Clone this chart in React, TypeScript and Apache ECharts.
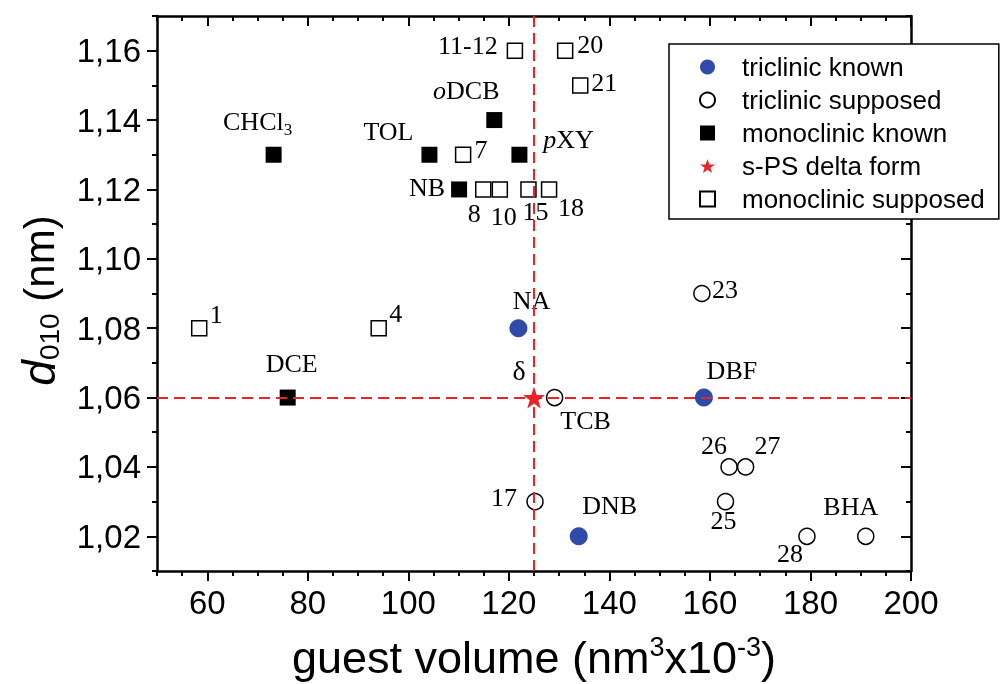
import React, { useEffect, useRef } from 'react';
import * as echarts from 'echarts';

// ---- data ----
const triclinicKnownNames = ['NA', 'DBF', 'DNB'];
const triclinicKnownX = [121.9, 158.8, 133.9];
const triclinicKnownY = [1.08, 1.06, 1.02];

const triclinicSupposedNames = ['TCB', '23', '17', '26', '27', '25', '28', 'BHA'];
const triclinicSupposedX = [129.1, 158.4, 125.2, 163.8, 167.1, 163.1, 179.3, 191];
const triclinicSupposedY = [1.06, 1.09, 1.03, 1.04, 1.04, 1.03, 1.02, 1.02];

const monoclinicKnownNames = ['CHCl3', 'TOL', 'oDCB', 'pXY', 'NB', 'DCE'];
const monoclinicKnownX = [73.2, 104.2, 117.1, 122.1, 110.1, 76];
const monoclinicKnownY = [1.13, 1.13, 1.14, 1.13, 1.12, 1.06];

const deltaNames = ['δ'];
const deltaX = [125];
const deltaY = [1.06];

const monoclinicSupposedNames = ['11-12', '20', '21', '7', '8', '10', '15', '18', '1', '4'];
const monoclinicSupposedX = [121.2, 131.2, 134.2, 110.9, 114.9, 118.2, 123.9, 128, 58.4, 94.1];
const monoclinicSupposedY = [1.16, 1.16, 1.15, 1.13, 1.12, 1.12, 1.12, 1.12, 1.08, 1.08];

const xTicks = [60, 80, 100, 120, 140, 160, 180, 200];
const yTicks = [1.02, 1.04, 1.06, 1.08, 1.1, 1.12, 1.14, 1.16];

// ---- label placement (style, px offsets from the marker) ----
const labelOffset: Record<string, [number, number]> = {
  NA: [13, -28], DBF: [28, -27], DNB: [31, -31],
  TCB: [31, 23], '23': [23, -4], '17': [-31, -4], '26': [-15, -21], '27': [22, -21],
  '25': [-2, 19], '28': [-17, 17], BHA: [-15, -30],
  CHCl3: [-16, -33], TOL: [-41, -23], oDCB: [-28, -30], pXY: [49, -15], NB: [-32, -2], DCE: [4, -34],
  'δ': [-15, -27],
  '11-12': [-47, -5], '20': [25, -6], '21': [24, -3], '7': [18, -5], '8': [-9, 24], '10': [4, 27],
  '15': [7, 22], '18': [22, 18], '1': [17, -14], '4': [17, -15],
};
const labelText: Record<string, string> = {
  CHCl3: 'CHCl{sub|3}',
  oDCB: '{it|o}DCB',
  pXY: '{it|p}XY',
};

const BLUE = '#2f4aa8';
const RED = '#e8232a';
const STAR = 'path://M50,0 L61.8,35.1 L98.1,35.1 L68.8,56.7 L79.4,90.9 L50,70 L20.6,90.9 L31.2,56.7 L1.9,35.1 L38.2,35.1 Z';
const SERIF = 'Liberation Serif';
const SANS = 'Liberation Sans';

const baseLabel = {
  show: true,
  position: 'inside',
  color: '#000',
  opacity: 1,
  fontFamily: SERIF,
  fontSize: 26,
  align: 'center',
  verticalAlign: 'middle',
  rich: {
    sub: { fontFamily: SERIF, fontSize: 17, color: '#000', padding: [16, 0, 0, 0] },
    it: { fontFamily: SERIF, fontSize: 26, color: '#000', fontStyle: 'italic' },
  },
};

function build(names: string[], xs: number[], ys: number[]) {
  return names.map((n, i) => ({
    name: n,
    value: [xs[i], ys[i]],
    label: { offset: labelOffset[n] || [0, 0], formatter: labelText[n] || n },
  }));
}

export default function App() {
  const ref = useRef<HTMLDivElement>(null);
  useEffect(() => {
    if (!ref.current) return;
    const chart = echarts.init(ref.current, null, { renderer: 'svg' });
    const lineStyle = { color: '#000', width: 2.5 };
    const tickStyle = { color: '#000', width: 2 };
    const xCommon = { type: 'value', min: 50, max: 200, splitLine: { show: false } };
    const yCommon = { type: 'value', min: 1.01, max: 1.17, splitLine: { show: false } };
    const option: any = {
      animation: false,
      grid: { left: 157, right: 94, top: 16, bottom: 113, containLabel: false, outerBoundsMode: 'none' },
      legend: {
        orient: 'vertical',
        left: 669,
        top: 44,
        padding: [10, 14, 7, 30],
        itemGap: 7,
        itemWidth: 15,
        itemHeight: 15,
        backgroundColor: '#fff',
        borderColor: '#000',
        borderWidth: 1.5,
        borderRadius: 0,
        textStyle: { fontFamily: SANS, fontSize: 26, color: '#000', lineHeight: 26, padding: [0, 0, 0, 22] },
        data: ['triclinic known', 'triclinic supposed', 'monoclinic known', 's-PS delta form', 'monoclinic supposed'],
      },
      xAxis: [
        {
          ...xCommon,
          position: 'bottom',
          axisLine: { show: true, onZero: false, lineStyle },
          axisTick: { show: true, customValues: xTicks, length: 10, lineStyle: tickStyle },
          axisLabel: { customValues: xTicks, fontFamily: SANS, fontSize: 33, color: '#000', margin: 15 },
          name: 'guest volume (nm{sup|3}x10{sup|-3})',
          nameLocation: 'middle',
          nameGap: 62,
          nameTextStyle: {
            fontFamily: SANS,
            fontSize: 45,
            color: '#000',
            rich: { sup: { fontFamily: SANS, fontSize: 27, color: '#000', padding: [0, 0, 22, 0] } },
          },
        },
        {
          ...xCommon,
          position: 'bottom',
          interval: 5,
          axisLine: { show: false, onZero: false },
          axisTick: { show: true, length: 5, lineStyle: tickStyle },
          axisLabel: { show: false },
        },
        {
          ...xCommon,
          position: 'top',
          axisLine: { show: true, onZero: false, lineStyle },
          axisTick: { show: true, inside: true, customValues: xTicks, length: 10, lineStyle: tickStyle },
          axisLabel: { show: false },
        },
        {
          ...xCommon,
          position: 'top',
          interval: 5,
          axisLine: { show: false, onZero: false },
          axisTick: { show: true, inside: true, length: 5, lineStyle: tickStyle },
          axisLabel: { show: false },
        },
      ],
      yAxis: [
        {
          ...yCommon,
          position: 'left',
          axisLine: { show: true, onZero: false, lineStyle },
          axisTick: { show: true, customValues: yTicks, length: 10, lineStyle: tickStyle },
          axisLabel: {
            customValues: yTicks,
            fontFamily: SANS,
            fontSize: 33,
            color: '#000',
            margin: 16,
            formatter: (v: number) => v.toFixed(2).replace('.', ','),
          },
          name: '{i|d}{sub|010}{n| (nm)}',
          nameLocation: 'middle',
          nameRotate: 90,
          nameGap: 94,
          nameTextStyle: {
            fontFamily: SANS,
            fontSize: 42,
            color: '#000',
            padding: [0, 14, 0, 0],
            rich: {
              i: { fontFamily: SANS, fontSize: 46, color: '#000', fontStyle: 'italic' },
              sub: { fontFamily: SANS, fontSize: 28, color: '#000', padding: [20, 0, 0, 0] },
              n: { fontFamily: SANS, fontSize: 42, color: '#000' },
            },
          },
        },
        {
          ...yCommon,
          position: 'left',
          interval: 0.01,
          axisLine: { show: false, onZero: false },
          axisTick: { show: true, length: 5, lineStyle: tickStyle },
          axisLabel: { show: false },
        },
        {
          ...yCommon,
          position: 'right',
          axisLine: { show: true, onZero: false, lineStyle },
          axisTick: { show: true, inside: true, customValues: yTicks, length: 10, lineStyle: tickStyle },
          axisLabel: { show: false },
        },
        {
          ...yCommon,
          position: 'right',
          interval: 0.01,
          axisLine: { show: false, onZero: false },
          axisTick: { show: true, inside: true, length: 5, lineStyle: tickStyle },
          axisLabel: { show: false },
        },
      ],
      series: [
        {
          type: 'scatter',
          name: 'triclinic known',
          symbol: 'circle',
          symbolSize: 18,
          itemStyle: { color: BLUE, opacity: 1 },
          label: baseLabel,
          data: build(triclinicKnownNames, triclinicKnownX, triclinicKnownY),
        },
        {
          type: 'scatter',
          name: 'triclinic supposed',
          symbol: 'circle',
          symbolSize: 16,
          itemStyle: { color: '#fff', borderColor: '#000', borderWidth: 1.5, opacity: 1 },
          label: baseLabel,
          data: build(triclinicSupposedNames, triclinicSupposedX, triclinicSupposedY),
        },
        {
          type: 'scatter',
          name: 'monoclinic known',
          symbol: 'rect',
          symbolSize: 16,
          itemStyle: { color: '#000', opacity: 1 },
          label: baseLabel,
          data: build(monoclinicKnownNames, monoclinicKnownX, monoclinicKnownY),
        },
        {
          type: 'scatter',
          name: 'monoclinic supposed',
          symbol: 'rect',
          symbolSize: 15,
          itemStyle: { color: '#fff', borderColor: '#000', borderWidth: 1.5, opacity: 1 },
          label: baseLabel,
          data: build(monoclinicSupposedNames, monoclinicSupposedX, monoclinicSupposedY),
        },
        {
          type: 'scatter',
          name: 's-PS delta form',
          symbol: STAR,
          symbolSize: 22,
          z: 5,
          itemStyle: { color: RED, opacity: 1 },
          label: { ...baseLabel, fontSize: 28 },
          data: build(deltaNames, deltaX, deltaY),
          markLine: {
            silent: true,
            symbol: 'none',
            label: { show: false },
            lineStyle: { color: RED, type: [11, 6], width: 2, opacity: 1 },
            data: [{ xAxis: deltaX[0] }, { yAxis: deltaY[0] }],
          },
        },
      ],
    };
    chart.setOption(option);
    return () => chart.dispose();
  }, []);
  return <div ref={ref} style={{ position: 'fixed', left: 0, top: 0, width: 1005, height: 684 }} />;
}
